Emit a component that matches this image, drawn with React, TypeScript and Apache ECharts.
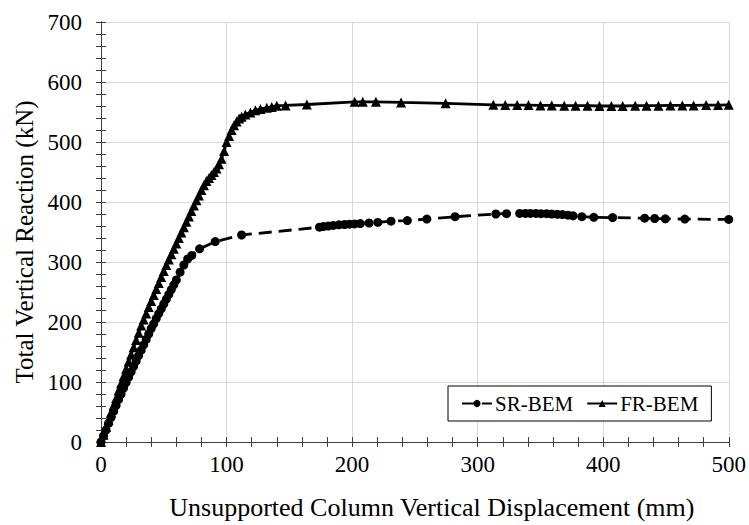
import React, { useEffect, useRef } from "react";
import * as echarts from "echarts";

const srDisp = [0, 2, 4, 6, 8, 10, 12, 14, 16, 18, 20, 22, 24, 26, 28, 30, 32, 34, 36, 38, 40, 42, 44, 46, 48, 50, 52, 54, 56, 58, 60, 63, 66, 69, 72.3, 78.5, 91, 112, 174, 177, 181, 185, 189.5, 194, 198, 202, 206.5, 213.5, 220.5, 231, 244, 259.5, 282, 314.5, 323, 333.5, 338, 342, 346.5, 350.5, 355, 359, 363.5, 367.5, 372, 376, 383, 392.5, 407.5, 433, 441, 449.5, 465, 500];
const srLoad = [0, 10, 20, 31, 41, 51, 61, 71, 80, 90, 99, 108, 117, 126, 135, 144, 153, 162, 171, 180, 189, 197, 206, 214, 222, 230, 238, 246, 254, 262, 270, 283, 295, 305, 311, 322, 334, 345, 358, 359, 360, 361, 362, 362.5, 363, 363.5, 364, 365, 366, 368, 369, 371.5, 375.5, 380, 380.5, 381, 381, 381, 381, 380.5, 380.5, 380, 379.5, 379, 378, 377, 375.5, 374.5, 374, 373, 372.5, 372, 371.5, 371];

const frDisp = [0, 2, 4, 6, 8, 10, 12, 14, 16, 18, 20, 22, 24, 26, 28, 30, 32, 34, 36, 38, 40, 42, 44, 46, 48, 50, 52, 54, 56, 58, 60, 62, 64, 66, 68, 70, 72, 74, 76, 78, 80, 82, 84, 86, 88, 90, 92, 94, 96, 98, 100, 102, 104, 106, 108, 110, 112, 115, 119, 123, 127, 132, 136, 140, 147, 164, 202, 208.5, 219, 239, 274.5, 312.5, 322, 331.5, 340.5, 350, 359, 369, 378, 387.5, 397, 406.5, 415.5, 425.5, 434.5, 444, 453.5, 463, 472, 482, 491.5, 500];
const frLoad = [0, 12, 25, 37, 49, 61, 73, 86, 98, 110, 122, 134, 146, 158, 170, 182, 194, 204, 214, 225, 235, 245, 255, 265, 275, 285, 295, 304, 313, 322, 331, 340, 349, 358, 367, 376, 385, 394, 403, 411, 420, 428, 435, 440, 445, 450, 456, 463, 472, 485, 500, 510, 520, 528, 534, 539, 542, 546, 549, 553, 555, 557, 558.5, 560.5, 561, 562.5, 567, 567, 567, 566, 564.5, 562, 561.5, 561.5, 561.5, 561, 561, 560.5, 560.5, 560.5, 560, 560, 560, 560.5, 560.5, 560.5, 561, 561, 561, 561.5, 561.5, 562];

const seriesNames = ["SR-BEM", "FR-BEM"];
const xTitle = "Unsupported Column Vertical Displacement (mm)";
const yTitle = "Total Vertical Reaction (kN)";

const FONT = "'Liberation Serif', 'Times New Roman', serif";

export default function App() {
  const ref = useRef<HTMLDivElement>(null);
  useEffect(() => {
    if (!ref.current) return;
    const chart = echarts.init(ref.current, undefined, { renderer: "svg" });
    const axisLineColor = "#404040";
    const common = {
      min: 0,
      interval: 100,
      axisLine: { show: true, lineStyle: { color: axisLineColor, width: 1 } },
      axisTick: { show: true, inside: true, length: 5, lineStyle: { color: axisLineColor } },
      minorTick: { show: true, splitNumber: 5, length: 5, lineStyle: { color: axisLineColor } },
    };
    chart.setOption({
      animation: false,
      backgroundColor: "#ffffff",
      grid: { left: 101, right: 16, top: 22, bottom: 80, containLabel: false },
      legend: {
        data: [{ name: seriesNames[0] }, { name: seriesNames[1] }],
        left: 448,
        top: 386,
        padding: [7, 13],
        itemGap: 13,
        itemWidth: 30,
        itemHeight: 9,
        borderColor: "#000",
        borderWidth: 1,
        backgroundColor: "#fff",
        textStyle: { fontFamily: FONT, fontSize: 21, color: "#000", padding: [0, 0, 0, -2] },
      },
      xAxis: [
        {
          ...common,
          type: "value",
          max: 500,
          position: "bottom",
          name: xTitle,
          nameLocation: "middle",
          nameGap: 52,
          nameTextStyle: { fontFamily: FONT, fontSize: 26, color: "#000", padding: [0, 0, 0, 34] },
          axisLabel: { fontFamily: FONT, fontSize: 23, color: "#000", margin: 11 },
          splitLine: { show: true, lineStyle: { color: "#d9d9d9", width: 1 } },
        },
        {
          ...common,
          type: "value",
          max: 500,
          position: "top",
          axisLabel: { show: false },
          splitLine: { show: false },
        },
      ],
      yAxis: [
        {
          ...common,
          type: "value",
          max: 700,
          position: "left",
          name: yTitle,
          nameLocation: "middle",
          nameGap: 60,
          nameTextStyle: { fontFamily: FONT, fontSize: 25, color: "#000", padding: [0, 20, 0, 0] },
          axisLabel: { fontFamily: FONT, fontSize: 23, color: "#000", margin: 19 },
          splitLine: { show: true, lineStyle: { color: "#d9d9d9", width: 1 } },
        },
        {
          ...common,
          type: "value",
          max: 700,
          position: "right",
          axisLabel: { show: false },
          splitLine: { show: false },
        },
      ],
      series: [
        {
          name: seriesNames[0],
          type: "line",
          data: srDisp.map((x, i) => [x, srLoad[i]]),
          symbol: "circle",
          symbolSize: 9,
          showAllSymbol: true,
          itemStyle: { color: "#000" },
          lineStyle: { color: "#000", width: 2.8, type: [13, 7] },
          z: 3,
        },
        {
          name: seriesNames[1],
          type: "line",
          data: frDisp.map((x, i) => [x, frLoad[i]]),
          symbol: "triangle",
          symbolSize: 10,
          showAllSymbol: true,
          itemStyle: { color: "#000" },
          lineStyle: { color: "#000", width: 2.8, type: "solid" },
          z: 4,
        },
      ],
    });
    return () => chart.dispose();
  }, []);
  return <div ref={ref} style={{ width: 749, height: 525, position: "absolute", left: 0, top: 0 }} />;
}
